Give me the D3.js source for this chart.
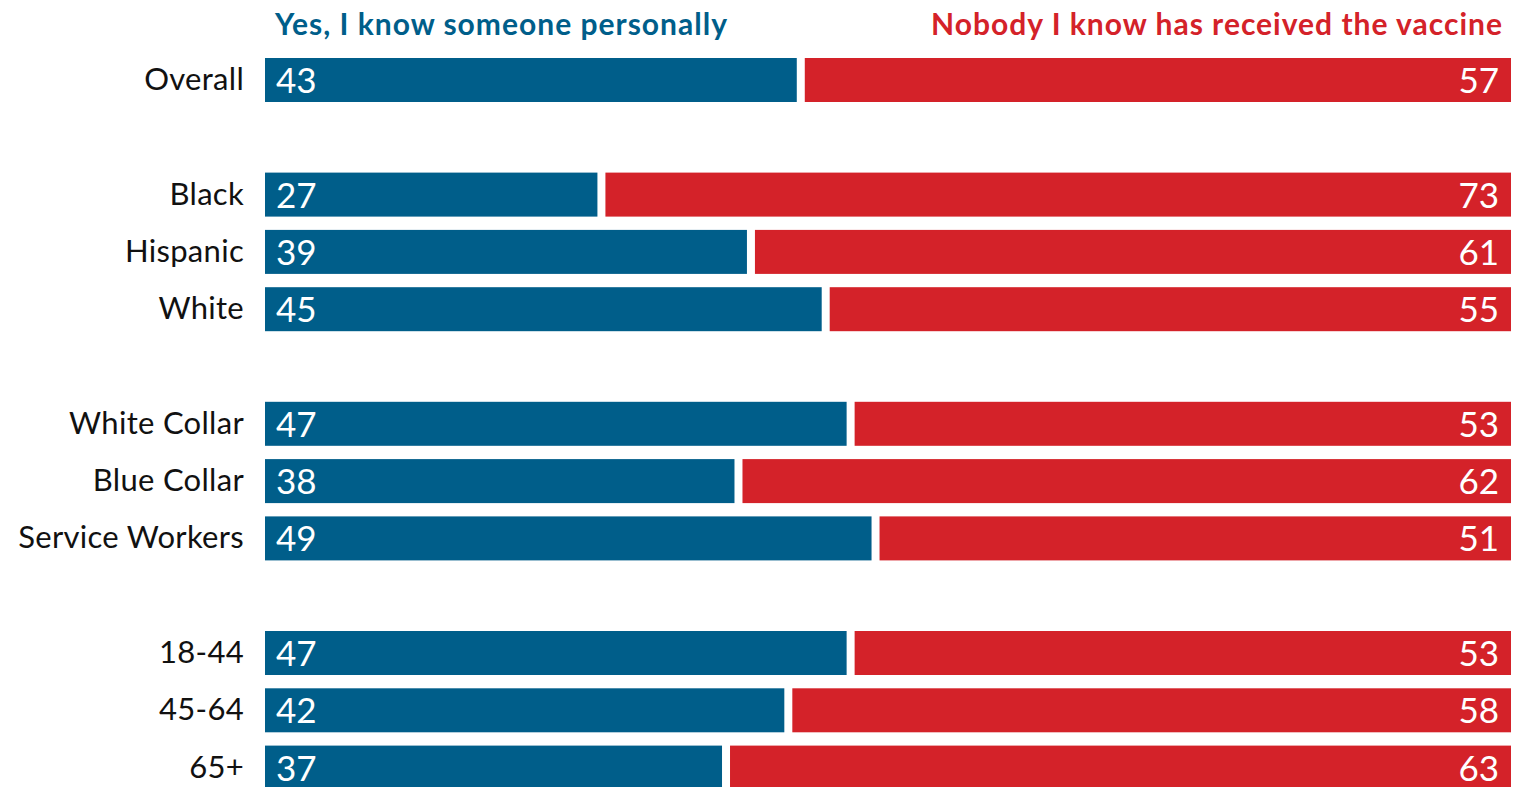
<!DOCTYPE html>
<html>
<head>
<meta charset="utf-8">
<script src="https://cdn.jsdelivr.net/npm/d3@7"></script>
<style>
  body { margin: 0; background: #fff; }
  text { font-family: Lato, "Open Sans", sans-serif; }
</style>
</head>
<body>
<div id="chart"></div>
<script>
var categories = ["Overall", "Black", "Hispanic", "White", "White Collar", "Blue Collar", "Service Workers", "18-44", "45-64", "65+"];
var rowSlots = [0, 2, 3, 4, 6, 7, 8, 10, 11, 12];
var yesValues = [43, 27, 39, 45, 47, 38, 49, 47, 42, 37];
var noValues = [57, 73, 61, 55, 53, 62, 51, 53, 58, 63];
var seriesNames = ["Yes, I know someone personally", "Nobody I know has received the vaccine"];

var W = 1522, H = 787;
var left = 265, right = 1511, gap = 8;
var blue = "#005E8A", red = "#D42229";

var svg = d3.select("#chart").append("svg")
  .attr("width", W).attr("height", H);

// x scale over the whole bar; segments are trimmed by half a gap at the split
var x = d3.scaleLinear().domain([0, 100]).range([left, right]);
var y = d3.scaleLinear().domain([0, 12]).range([80, 767.6]);
var bh = 44;

var data = categories.map(function(c, i) {
  return {cat: c, slot: rowSlots[i], yes: yesValues[i], no: noValues[i]};
});

// legend headers
svg.append("text")
  .attr("x", 275).attr("y", 35)
  .attr("fill", blue).attr("font-size", 30).attr("font-weight", 700)
  .attr("letter-spacing", 1.0)
  .text(seriesNames[0]);
svg.append("text")
  .attr("x", 1503).attr("y", 35)
  .attr("text-anchor", "end")
  .attr("fill", red).attr("font-size", 30).attr("font-weight", 700)
  .attr("letter-spacing", 1.0)
  .text(seriesNames[1]);

var rows = svg.selectAll("g.row")
  .data(data)
  .enter().append("g")
  .attr("class", "row")
  .attr("transform", function(d) { return "translate(0," + y(d.slot) + ")"; });

rows.append("rect")
  .attr("x", x(0))
  .attr("y", -bh / 2)
  .attr("width", function(d) { return x(d.yes) - x(0) - gap / 2; })
  .attr("height", bh)
  .attr("fill", blue);

rows.append("rect")
  .attr("x", function(d) { return x(d.yes) + gap / 2; })
  .attr("y", -bh / 2)
  .attr("width", function(d) { return x(100) - x(d.yes) - gap / 2; })
  .attr("height", bh)
  .attr("fill", red);

// category labels
rows.append("text")
  .attr("x", 244).attr("y", 10)
  .attr("text-anchor", "end")
  .attr("font-size", 31)
  .attr("fill", "#111")
  .attr("letter-spacing", 0.3)
  .text(function(d) { return d.cat; });

// value labels
rows.append("text")
  .attr("x", x(0) + 11).attr("y", 13)
  .attr("font-size", 35)
  .attr("fill", "#fff")
  .text(function(d) { return d.yes; });

rows.append("text")
  .attr("x", x(100) - 12).attr("y", 13)
  .attr("text-anchor", "end")
  .attr("font-size", 35)
  .attr("fill", "#fff")
  .text(function(d) { return d.no; });
</script>
</body>
</html>
